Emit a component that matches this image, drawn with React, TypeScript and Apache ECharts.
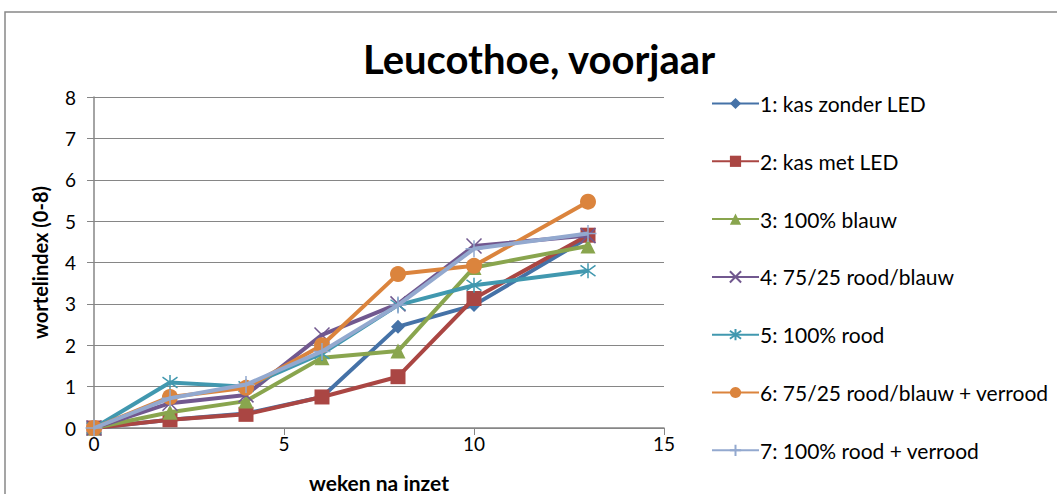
import React, { useEffect, useRef } from "react";
import * as echarts from "echarts";

const weeks = [0, 2, 4, 6, 8, 10, 13];
const seriesNames = [
  "1: kas zonder LED",
  "2: kas met LED",
  "3: 100% blauw",
  "4: 75/25 rood/blauw",
  "5: 100% rood",
  "6: 75/25 rood/blauw + verrood",
  "7: 100% rood + verrood",
];
const s1 = [0, 0.2, 0.35, 0.75, 2.45, 2.97, 4.6];
const s2 = [0, 0.2, 0.33, 0.75, 1.24, 3.13, 4.66];
const s3 = [0, 0.38, 0.65, 1.7, 1.86, 3.88, 4.4];
const s4 = [0, 0.6, 0.8, 2.25, 3.0, 4.4, 4.65];
const s5 = [0, 1.1, 1.0, 1.8, 2.97, 3.45, 3.8];
const s6 = [0, 0.75, 0.97, 2.0, 3.72, 3.92, 5.47];
const s7 = [0, 0.72, 1.05, 1.85, 2.97, 4.33, 4.7];
const allValues = [s1, s2, s3, s4, s5, s6, s7];
const colors = ["#4572A7", "#AA4643", "#89A54E", "#71588F", "#4198AF", "#DB843D", "#93A9CF"];
const symbols = [
  "diamond",
  "rect",
  "triangle",
  "path://M0,0L10,10M10,0L0,10",
  "path://M0,0L10,10M10,0L0,10M5,-2L5,12",
  "circle",
  "path://M5,0L5,10M0,5L10,5",
];
const symbolSizes = [14, 15, 15, 15, 15, 16, 17];
const strokeSymbol = [false, false, false, true, true, false, true];

const FONT = "Lato, 'Open Sans', sans-serif";

export default function App() {
  const ref = useRef<HTMLDivElement>(null);
  useEffect(() => {
    const chart = echarts.init(ref.current!, undefined, { renderer: "svg" });
    const series = seriesNames.map((name, i) => ({
      name,
      type: "line",
      data: weeks.map((w, j) => [w, allValues[i][j]]),
      symbol: symbols[i],
      symbolSize: symbolSizes[i],
      showAllSymbol: true,
      lineStyle: { color: colors[i], width: 4 },
      itemStyle: strokeSymbol[i]
        ? { color: colors[i], borderColor: colors[i], borderWidth: 1.5 }
        : { color: colors[i], borderWidth: 0 },
      z: 2 + i,
    }));
    chart.setOption({
      animation: false,
      backgroundColor: "#ffffff",
      title: {
        text: "Leucothoe, voorjaar",
        left: 534,
        textAlign: "center",
        top: 34,
        textStyle: { fontFamily: FONT, fontSize: 40, fontWeight: "bold", color: "#000" },
      },
      graphic: [
        {
          type: "rect",
          shape: { x: 5, y: 12, width: 1200, height: 700 },
          style: { fill: "none", stroke: "#888888", lineWidth: 1.5 },
          silent: true,
        },
      ],
      legend: {
        orient: "vertical",
        left: 706,
        top: 86,
        itemWidth: 47,
        itemHeight: 14,
        itemGap: 32.8,
        textStyle: { fontFamily: FONT, fontSize: 21, color: "#000", lineHeight: 25, padding: [0, 0, 0, -4] },
        data: seriesNames,
      },
      grid: { left: 94, right: 393, top: 97, bottom: 66, outerBoundsMode: "none" },
      xAxis: {
        type: "value",
        min: 0,
        max: 15,
        interval: 5,
        name: "weken na inzet",
        nameLocation: "middle",
        nameGap: 44,
        nameTextStyle: { fontFamily: FONT, fontSize: 21, fontWeight: "bold", color: "#000" },
        axisLine: { show: true, lineStyle: { color: "#868686", width: 1.5 } },
        axisTick: { show: true, length: 7, lineStyle: { color: "#868686" } },
        axisLabel: { fontFamily: FONT, fontSize: 19, color: "#000", margin: 6 },
        splitLine: { show: false },
      },
      yAxis: {
        type: "value",
        min: 0,
        max: 8,
        interval: 1,
        name: "wortelindex (0-8)",
        nameLocation: "middle",
        nameGap: 44,
        nameTextStyle: { fontFamily: FONT, fontSize: 20, fontWeight: "bold", color: "#000" },
        axisLine: { show: true, lineStyle: { color: "#868686", width: 1.5 } },
        axisTick: { show: true, length: 7, lineStyle: { color: "#868686" } },
        axisLabel: { fontFamily: FONT, fontSize: 19, color: "#000", margin: 18 },
        splitLine: { show: true, lineStyle: { color: "#868686", width: 1 } },
      },
      series,
    });
    return () => chart.dispose();
  }, []);
  return (
    <div
      ref={ref}
      style={{ position: "fixed", left: 0, top: 0, width: 1057, height: 494 }}
    />
  );
}
